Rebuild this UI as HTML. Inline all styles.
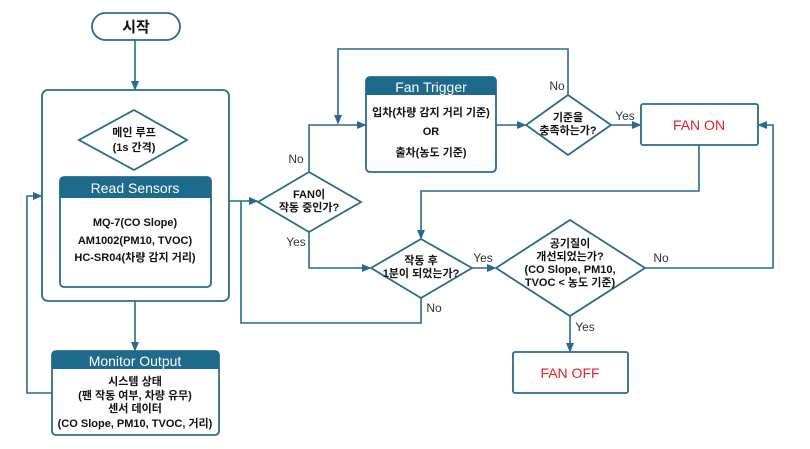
<!DOCTYPE html>
<html><head><meta charset="utf-8"><style>
html,body{margin:0;padding:0;background:#fff;}
svg{display:block;}
text{font-family:"Liberation Sans","Noto Sans CJK KR",sans-serif;}
.b{font-weight:bold;font-size:11px;fill:#111;}
.h{font-size:14px;fill:#fff;}
.l{font-size:12px;fill:#333;}
.r{font-size:14px;fill:#e0202a;}
</style></head><body>
<svg width="810" height="449" viewBox="0 0 810 449" xmlns="http://www.w3.org/2000/svg">
<defs><marker id="a" markerWidth="6" markerHeight="6" refX="5" refY="3" orient="auto"><path d="M0,0.5 L6,3 L0,5.5z" fill="#2a6a8e"/></marker></defs>
<g fill="none" stroke="#2a6a8e" stroke-width="1.6">
<rect x="92" y="13" width="88" height="27" rx="13.5" stroke-width="1.8"/>
<rect x="42" y="90" width="187" height="211" rx="6" stroke-width="1.8"/>
<polygon points="134,110 187,140 134,170 79,140" stroke-width="1.8"/>
<rect x="60" y="177" width="151" height="110" rx="4" stroke-width="1.8"/>
<rect x="52" y="351" width="167" height="84" rx="4" stroke-width="1.8"/>
<rect x="366" y="77" width="130" height="95" rx="4" stroke-width="1.8"/>
<polygon points="309,172 361,202 309,232 258,202" stroke-width="1.8"/>
<polygon points="568,95 611,125 568,155 526,125" stroke-width="1.8"/>
<rect x="641" y="104" width="117" height="41" rx="2" stroke-width="1.8"/>
<polygon points="421,239 472,268 421,298 371,268" stroke-width="1.8"/>
<polygon points="570,220 645,268 570,316 496,268" stroke-width="1.8"/>
<rect x="513" y="352" width="115" height="41" rx="2" stroke-width="1.8"/>
<path d="M135,40 V89" marker-end="url(#a)"/>
<path d="M135,301 V350" marker-end="url(#a)"/>
<path d="M52,393 H27 V196 H41" marker-end="url(#a)"/>
<path d="M229,201 H257" marker-end="url(#a)"/>
<path d="M241,201 V323 H421 V298"/>
<path d="M309,172 V125 H365" marker-end="url(#a)"/>
<path d="M309,232 V268 H370" marker-end="url(#a)"/>
<path d="M568,95 V49 H338 V123" marker-end="url(#a)"/>
<path d="M496,125 H525" marker-end="url(#a)"/>
<path d="M611,125 H640" marker-end="url(#a)"/>
<path d="M699,145 V191 H421 V238" marker-end="url(#a)"/>
<path d="M472,268 H495" marker-end="url(#a)"/>
<path d="M645,268 H773 V125 H759" marker-end="url(#a)"/>
<path d="M570,316 V351" marker-end="url(#a)"/>
</g>
<g fill="#1e6a8d">
<path d="M60,198 V181 a4,4 0 0 1 4,-4 H207 a4,4 0 0 1 4,4 V198z"/>
<path d="M52,369 V355 a4,4 0 0 1 4,-4 H215 a4,4 0 0 1 4,4 V369z"/>
<path d="M366,95 V81 a4,4 0 0 1 4,-4 H492 a4,4 0 0 1 4,4 V95z"/>
</g>
<g text-anchor="middle">
<text x="136" y="32" style="font-weight:bold;font-size:15px;fill:#111">시작</text>
<text x="134" y="136" class="b">메인 루프</text>
<text x="134" y="151" class="b">(1s 간격)</text>
<text x="135" y="193" class="h">Read Sensors</text>
<text x="135" y="226" class="b">MQ-7(CO Slope)</text>
<text x="135" y="244" class="b">AM1002(PM10, TVOC)</text>
<text x="135" y="261" class="b">HC-SR04(차량 감지 거리)</text>
<text x="135" y="366" class="h">Monitor Output</text>
<text x="135" y="385" class="b">시스템 상태</text>
<text x="135" y="399" class="b">(팬 작동 여부, 차량 유무)</text>
<text x="135" y="412" class="b">센서 데이터</text>
<text x="135" y="427" class="b">(CO Slope, PM10, TVOC, 거리)</text>
<text x="431" y="92" class="h">Fan Trigger</text>
<text x="431" y="116" class="b">입차(차량 감지 거리 기준)</text>
<text x="431" y="135" class="b">OR</text>
<text x="431" y="156" class="b">출차(농도 기준)</text>
<text x="309" y="198" class="b">FAN이</text>
<text x="309" y="211" class="b">작동 중인가?</text>
<text x="568" y="121" class="b">기준을</text>
<text x="568" y="134" class="b">충족하는가?</text>
<text x="699" y="130" class="r">FAN ON</text>
<text x="421" y="264" class="b">작동 후</text>
<text x="421" y="277" class="b">1분이 되었는가?</text>
<text x="570" y="247" class="b">공기질이</text>
<text x="570" y="260" class="b">개선되었는가?</text>
<text x="570" y="273" class="b">(CO Slope, PM10,</text>
<text x="570" y="286" class="b">TVOC &lt; 농도 기준)</text>
<text x="570" y="378" class="r">FAN OFF</text>
<text x="296" y="163" class="l">No</text>
<text x="296" y="246" class="l">Yes</text>
<text x="557" y="90" class="l">No</text>
<text x="625" y="120" class="l">Yes</text>
<text x="483" y="262" class="l">Yes</text>
<text x="434" y="312" class="l">No</text>
<text x="661" y="262" class="l">No</text>
<text x="585" y="331" class="l">Yes</text>
</g>
</svg>
</body></html>
